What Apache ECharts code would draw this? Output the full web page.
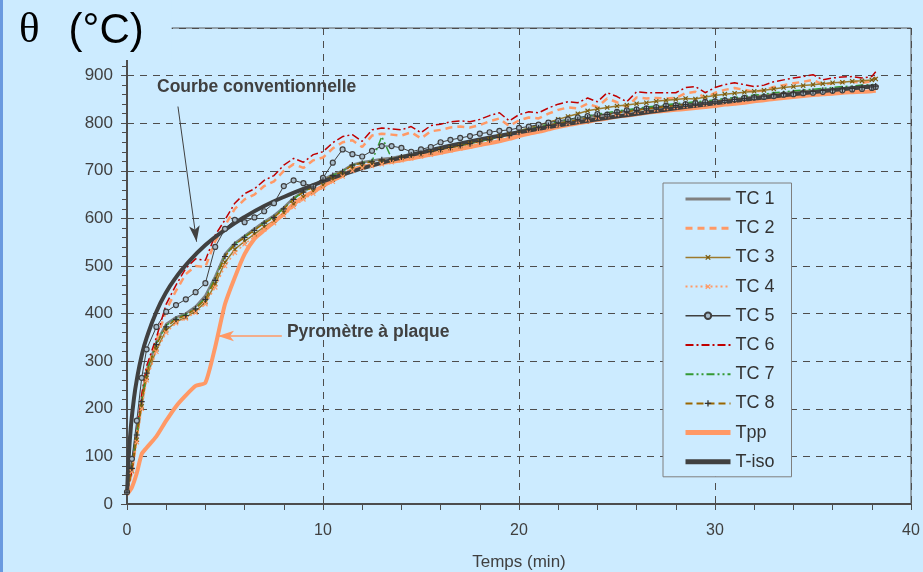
<!DOCTYPE html>
<html lang="fr">
<head>
    <meta charset="UTF-8">
    <script src="https://cdn.jsdelivr.net/npm/echarts@6.0.0/dist/echarts.min.js"></script>
    <style>
        html, body { margin: 0; padding: 0; background: #CCEBFF; }
    </style>
</head>
<body>
<div id="chart" style="width: 923px;height:572px;"></div>
<script type="text/javascript">

    // temps (min)
    var time = [0,0.25,0.5,0.75,1,1.5,2,2.5,3,3.5,
        4,4.5,5,5.5,6,6.5,7,7.5,8,8.5,
        9,9.5,10,10.5,11,11.5,12,12.5,13,13.5,
        14,14.5,15,15.5,16,16.5,17,17.5,18,18.5,
        19,19.5,20,20.5,21,21.5,22,22.5,23,23.5,
        24,24.5,25,25.5,26,26.5,27,27.5,28,28.5,
        29,29.5,30,30.5,31,31.5,32,32.5,33,33.5,
        34,34.5,35,35.5,36,36.5,37,37.5,38,38.2];

    var tc1 = [25,80,150,220,280,340,378,392,400,415,
        438,478,525,548,563,578,593,606,623,643,
        657,668,682,692,700,713,718,721,725,727,
        731,735,739,742,747,751,755,759,763,767,
        772,776,782,787,792,796,801,805,809,812,
        816,819,823,825,828,831,833,836,838,840,
        842,844,846,849,851,853,856,858,861,863,
        865,867,868,870,871,873,874,876,877,879];

    var tc2 = [25,66,140,220,280,342,408,448,483,500,
        498,552,585,620,640,650,668,678,700,714,
        706,722,728,747,760,764,750,774,778,776,
        774,781,768,783,786,791,793,791,796,804,
        810,794,806,812,810,820,828,833,831,841,
        834,852,844,834,854,852,853,852,853,863,
        866,853,864,870,874,870,866,869,876,880,
        884,887,891,881,884,886,887,885,888,897];

    var tc3 = [25,70,135,205,265,325,365,383,392,405,
        424,462,508,535,552,567,582,595,612,630,
        645,657,670,682,692,705,710,714,719,722,
        727,731,735,739,744,748,752,757,762,766,
        772,777,784,790,796,802,808,814,820,826,
        830,833,836,838,841,843,846,848,850,852,
        851,855,858,861,863,865,867,869,872,875,
        877,879,881,883,885,886,888,889,891,893];

    var tc4 = [25,68,130,200,260,320,360,380,390,402,
        420,455,500,528,546,562,577,590,606,624,
        640,652,665,677,688,700,706,710,714,718,
        722,726,730,734,739,743,747,751,756,760,
        765,770,776,781,786,791,796,800,804,808,
        812,815,819,821,824,827,829,832,834,836,
        838,840,842,845,847,849,852,854,857,859,
        861,863,864,866,867,869,870,872,873,875];

    var tc5 = [25,95,175,265,325,372,404,418,430,445,
        464,540,578,597,592,602,615,632,668,680,
        674,667,685,717,745,735,730,742,752,752,
        748,740,745,750,760,765,769,773,778,781,
        784,786,790,793,797,801,805,808,812,815,
        819,818,824,827,829,831,834,837,838,840,
        842,845,846,848,850,853,854,855,857,860,
        861,863,864,866,868,869,871,872,874,876];

    var tc6 = [25,70,150,230,290,350,420,460,495,515,
        512,565,597,632,652,662,680,690,712,726,
        718,734,740,759,772,776,762,786,790,788,
        786,793,780,795,798,803,805,803,808,816,
        822,805,818,824,822,832,840,845,843,853,
        845,864,856,845,866,864,864,864,864,875,
        877,864,875,881,885,881,877,880,887,891,
        895,898,902,891,895,897,898,895,898,908];

    var tc7 = [25,78,148,218,278,338,375,390,398,412,
        433,474,522,546,561,576,591,604,621,641,
        656,667,681,691,699,712,717,720,772,726,
        730,734,738,741,746,750,754,758,762,766,
        771,776,783,788,793,798,803,807,811,815,
        819,822,826,828,831,834,836,839,841,843,
        845,847,849,852,854,856,859,861,864,866,
        868,870,871,873,875,877,878,880,881,883];

    var tc8 = [25,75,145,215,275,335,372,388,396,410,
        430,470,520,545,560,575,590,602,620,640,
        655,666,680,690,698,712,716,719,723,725,
        729,733,737,740,745,749,753,757,761,765,
        770,774,781,786,790,795,800,803,807,811,
        815,818,822,824,827,830,832,835,837,839,
        840,843,845,848,850,852,855,857,860,862,
        864,866,867,869,870,872,873,875,876,878];

    var tpp = [20,35,65,105,118,142,175,205,228,248,
        255,330,420,476,525,557,575,592,610,630,
        645,656,668,680,690,702,708,712,716,719,
        722,726,730,734,738,742,746,750,754,758,
        762,767,773,778,782,787,792,796,800,803,
        807,810,814,816,819,822,824,826,828,830,
        832,834,836,839,841,843,846,848,851,853,
        855,857,859,861,862,864,865,866,867,868];

    // courbe conventionnelle
    var isoTime = [0,0.1,0.2,0.35,0.5,0.75,1,1.5,2,2.5,3,4,5,6,7,8,10,12,14,16,18,20,23,26,30,34,38.2];
    var tIso = [20,108,163,220,261,312,349,404,445,476,502,544,576,603,626,645,678,705,728,748,766,781,802,820,842,861,878];

    var legendNames = ["TC 1", "TC 2", "TC 3", "TC 4", "TC 5", "TC 6", "TC 7", "TC 8", "Tpp", "T-iso"];
    var noMarker = ["TC 1", "TC 2", "TC 6", "TC 7", "Tpp", "T-iso"];
    var legendWidth = { "TC 1": 3, "TC 2": 3, "TC 3": 1.5, "TC 4": 2, "TC 5": 1.5, "TC 6": 2, "TC 7": 2, "TC 8": 2, "Tpp": 5, "T-iso": 5 };

    var bg = "#CCEBFF";
    var crossPath = "path://M4,0H6V4H10V6H6V10H4V6H0V4H4Z";

    function pairs(xs, ys) {
        return xs.map((x, i) => [x, ys[i]]);
    }

    const chart = echarts.init(document.getElementById("chart"));

    let option = {
        backgroundColor: bg,
        animation: false,
        textStyle: { fontFamily: "Liberation Sans, Arial, sans-serif" },
        title: {
            text: "{a|θ}{b|(°C)}",
            left: 15, top: 0,
            padding: [8, 28, 6, 4],
            backgroundColor: bg,
            textStyle: {
                lineHeight: 46, fontWeight: "normal",
                rich: {
                    a: { fontFamily: "Liberation Serif, serif", fontSize: 43, fontWeight: "normal", color: "#000", lineHeight: 46 },
                    b: { fontFamily: "Liberation Sans, Arial, sans-serif", fontSize: 42, fontWeight: "normal", color: "#000", lineHeight: 46, padding: [0, 0, 0, 29] }
                }
            }
        },
        grid: { left: 127, right: 12, top: 28, bottom: 68, show: true, borderColor: "#595959", borderWidth: 1,
                outerBoundsMode: "none", containLabel: false },
        legend: {
            orient: "vertical",
            left: 663, top: 183,
            padding: [7, 17, 6, 20],
            itemWidth: 45, itemHeight: 8, itemGap: 11.2,
            borderColor: "#7f7f7f", borderWidth: 1,
            backgroundColor: bg,
            textStyle: { fontSize: 18, color: "#333" },
            data: legendNames.map(n => {
                let item = { name: n, lineStyle: { width: legendWidth[n] } };
                if (noMarker.includes(n)) item.itemStyle = { opacity: 0 };
                return item;
            })
        },
        xAxis: {
            type: "value", min: 0, max: 40, interval: 10,
            name: "Temps (min)", nameLocation: "middle", nameGap: 50,
            nameTextStyle: { fontSize: 17, color: "#404040" },
            axisLine: { lineStyle: { color: "#4d4d4d", width: 2 } },
            axisTick: { length: 6, lineStyle: { color: "#4d4d4d" } },
            minorTick: { show: true, splitNumber: 5, length: 6, lineStyle: { color: "#4d4d4d" } },
            axisLabel: { fontSize: 16, color: "#404040", margin: 19 },
            splitLine: { show: true, lineStyle: { color: "#4d4d4d", type: [7, 6], width: 1 } }
        },
        yAxis: {
            type: "value", min: 0, max: 1000, interval: 100,
            axisLine: { show: true, lineStyle: { color: "#4d4d4d", width: 2 } },
            axisTick: { show: true, length: 6, lineStyle: { color: "#4d4d4d" } },
            minorTick: { show: true, splitNumber: 5, length: 5, lineStyle: { color: "#4d4d4d" } },
            axisLabel: { fontSize: 17, color: "#404040", margin: 14, formatter: v => v === 1000 ? "" : v },
            splitLine: { show: true, lineStyle: { color: "#4d4d4d", type: [7, 6], width: 1 } }
        },
        series: [
            { name: "TC 1", type: "line", data: pairs(time, tc1), symbol: "none",
              lineStyle: { color: "#808080", width: 2.5 }, itemStyle: { color: "#808080" } },
            { name: "TC 2", type: "line", data: pairs(time, tc2), symbol: "none",
              lineStyle: { color: "#FF9966", width: 2.5, type: [7, 5] }, itemStyle: { color: "#FF9966" } },
            { name: "TC 3", type: "line", data: pairs(time, tc3), symbol: crossPath, symbolSize: 6, symbolRotate: 45, showAllSymbol: true,
              lineStyle: { color: "#9C7A2C", width: 1.5 }, itemStyle: { color: "#7a5c10" } },
            { name: "TC 4", type: "line", data: pairs(time, tc4), symbol: crossPath, symbolSize: 6, symbolRotate: 45, showAllSymbol: true,
              lineStyle: { color: "#FF9966", width: 1.5, type: [2, 3] }, itemStyle: { color: "#FF9966" } },
            { name: "TC 5", type: "line", data: pairs(time, tc5), symbol: "circle", symbolSize: 5, showAllSymbol: true,
              lineStyle: { color: "#404040", width: 1 }, itemStyle: { color: "#a8bccb", borderColor: "#404040", borderWidth: 1.2 } },
            { name: "TC 6", type: "line", data: pairs(time, tc6), symbol: "none",
              lineStyle: { color: "#C00000", width: 1.5, type: [8, 3, 2, 3] }, itemStyle: { color: "#C00000" } },
            { name: "TC 7", type: "line", data: pairs(time, tc7), symbol: "none",
              lineStyle: { color: "#339933", width: 1.5, type: [8, 3, 2, 3, 2, 3] }, itemStyle: { color: "#339933" } },
            { name: "TC 8", type: "line", data: pairs(time, tc8), symbol: crossPath, symbolSize: 6, showAllSymbol: true,
              lineStyle: { color: "#996600", width: 1.5, type: [7, 4] }, itemStyle: { color: "#333" } },
            { name: "Tpp", type: "line", data: pairs(time, tpp), symbol: "none", smooth: 0.2,
              lineStyle: { color: "#FF9966", width: 4 }, itemStyle: { color: "#FF9966" } },
            { name: "T-iso", type: "line", data: pairs(isoTime, tIso), symbol: "none", smooth: true,
              lineStyle: { color: "#404040", width: 4 }, itemStyle: { color: "#404040" },
              markLine: {
                  silent: true, animation: false,
                  symbol: ["none", "arrow"],
                  label: { show: false },
                  data: [
                      [{ coord: [2.6, 835], symbolSize: 12, lineStyle: { color: "#404040", width: 1, type: "solid" } },
                       { coord: [3.55, 551] }],
                      [{ coord: [7.9, 353], symbolSize: 12, lineStyle: { color: "#FF9966", width: 1.5, type: "solid" } },
                       { coord: [4.64, 353] }]
                  ]
              } }
        ]
    };
    chart.setOption(option);

    const p1 = chart.convertToPixel({ gridIndex: 0 }, [1.53, 875]);
    const p2 = chart.convertToPixel({ gridIndex: 0 }, [8.16, 360]);
    chart.setOption({
        graphic: [
            { type: "rect", left: 0, top: 0, shape: { width: 3, height: 572 }, style: { fill: "#6a9ae0" } },
            { type: "text", x: p1[0], y: p1[1], style: { text: "Courbe conventionnelle", font: "bold 17.5px Liberation Sans", fill: "#404040", textVerticalAlign: "middle" } },
            { type: "text", x: p2[0], y: p2[1], style: { text: "Pyromètre à plaque", font: "bold 17.5px Liberation Sans", fill: "#404040", textVerticalAlign: "middle" } }
        ]
    });
</script>
</body>
</html>
